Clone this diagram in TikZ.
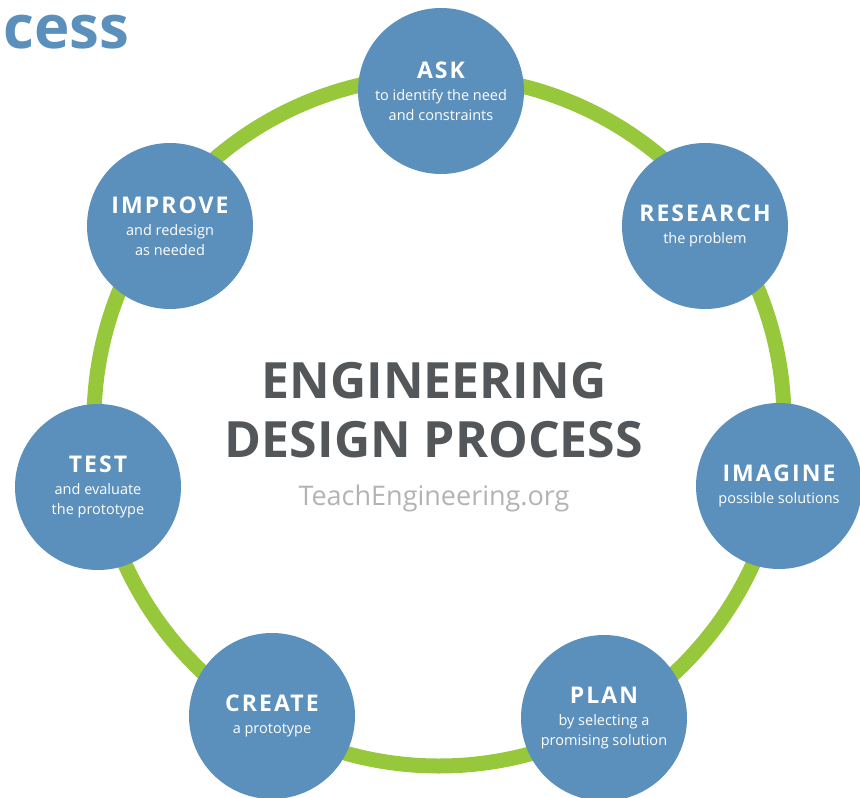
\documentclass[tikz,border=0pt]{standalone}
\usepackage{fontspec}
\usetikzlibrary{positioning}
\setmainfont{Open Sans}
\newfontfamily\titlefont[LetterSpace=9]{Open Sans}
\definecolor{stageblue}{HTML}{5B8FBC}
\definecolor{loopgreen}{HTML}{97C83C}
\definecolor{headgrey}{HTML}{53575A}
\definecolor{sitegrey}{HTML}{B3B3B3}
\newcommand\stagetitle[1]{{\fontsize{23}{24}\selectfont\titlefont\bfseries #1}}

\begin{document}
\begin{tikzpicture}[x=1pt, y=-1pt,
    stage/.style={circle, fill=stageblue, minimum size=166pt, inner sep=0pt,
      text=white, align=center, font=\fontsize{14.5}{20}\selectfont},
    ring/.style={draw=loopgreen, line width=15pt}]
  \useasboundingbox (0,0) rectangle (860,798);
  \clip (0,0) rectangle (860,798);
  \coordinate (hub) at (439,421);
  \draw[ring] (hub) circle [radius=345pt];
  \node[anchor=base west, text=stageblue, font=\fontsize{60}{60}\selectfont\bfseries] (cess) at (0,48) {cess};
  \node[stage] (ask) at (441,91) {\stagetitle{ASK}\\[2pt]to identify the need\\and constraints};
  \node[stage] (research) at (705,226) {\stagetitle{RESEARCH}\\[2pt]the problem};
  \node[stage] (imagine) at (779,486) {\stagetitle{IMAGINE}\\[2pt]possible solutions};
  \node[stage] (plan) at (604,718) {\stagetitle{PLAN}\\[2pt]by selecting a\\promising solution};
  \node[stage] (create) at (272,716) {\stagetitle{CREATE}\\[2pt]a prototype};
  \node[stage] (test) at (98,487) {\stagetitle{TEST}\\[2pt]and evaluate\\the prototype};
  \node[stage] (improve) at (170,226) {\stagetitle{IMPROVE}\\[2pt]and redesign\\as needed};
  \node[text=headgrey, align=center, font=\fontsize{50}{59}\selectfont\bfseries] (head) at (434,410) {ENGINEERING\\DESIGN PROCESS};
  \node[text=sitegrey, font=\fontsize{27}{30}\selectfont] (site) [below=20pt of head] {TeachEngineering.org};
\end{tikzpicture}
\end{document}
